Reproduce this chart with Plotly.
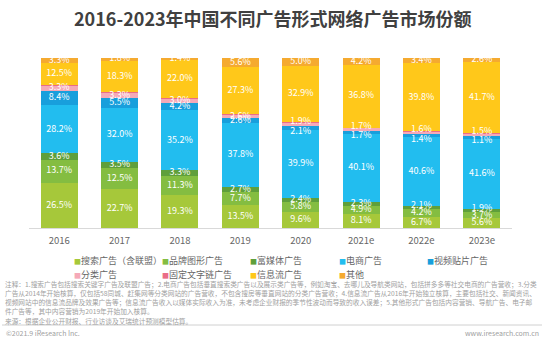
import plotly.graph_objects as go

W, H = 546, 342
ML, MR, MT, MB = 29, 34, 58, 114
PW, PH = W - ML - MR, H - MT - MB
YMAX = 99.8

def px(x):
    return (x - ML) / PW

def py(y):
    return (H - MB - y) / PH

years = ["2016", "2017", "2018", "2019", "2020", "2021e", "2022e", "2023e"]

series_names = ["搜索广告（含联盟）", "品牌图形广告", "富媒体广告", "电商广告", "视频贴片广告",
                "分类广告", "固定文字链广告", "信息流广告", "其他"]
colors = ["#a6c83a", "#84bd41", "#5f9f3b", "#22bdef", "#189fdc",
          "#f5a9b8", "#ea6d88", "#ffc81a", "#f5aa30"]

search = [26.5, 22.7, 19.3, 13.5, 9.6, 8.1, 6.7, 5.6]
brand = [13.7, 12.5, 11.3, 7.7, 5.8, 4.9, 4.2, 3.7]
rich_media = [3.6, 3.5, 3.3, 2.7, 2.4, 2.3, 2.1, 1.9]
ecommerce = [28.2, 32.0, 35.2, 37.8, 39.9, 40.1, 40.6, 41.6]
video = [8.4, 5.5, 4.2, 2.6, 2.1, 1.7, 1.4, 1.1]
classified = [3.3, 3.3, 3.0, 2.6, 1.9, 1.7, 1.6, 1.5]
text_link = [0.5, 0.4, 0.3, 0.2, 0.4, 0.2, 0.2, 0.3]
feed = [12.5, 18.3, 22.0, 27.3, 32.9, 36.8, 39.8, 41.7]
other = [3.3, 1.8, 1.4, 5.6, 5.0, 4.2, 3.4, 2.6]

series_values = [search, brand, rich_media, ecommerce, video, classified, text_link, feed, other]
show_labels = [True, True, True, True, True, True, False, True, True]
# label nudges for thin segments (pixels, negative = up)
thin_limit = 2.25
thin_nudge_px = [0, 0, -2, 0, 4, -3, 0, 0, 0]

title_text = "2016-2023年中国不同广告形式网络广告市场份额"
note_lines = [
    "注释：1.搜索广告包括搜索关键字广告及联盟广告；2.电商广告包括垂直搜索类广告以及展示类广告等，例如淘宝、去哪儿及导航类网站，包括拼多多等社交电商的广告营收；3.分类",
    "广告从2014年开始核算，仅包括58同城、赶集网等分类网站的广告营收，不包含搜房等垂直网站的分类广告营收；4.信息流广告从2016年开始独立核算，主要包括社交、新闻资讯、",
    "视频网站中的信息流品牌及效果广告等；信息流广告收入以媒体实际收入为准，未考虑企业财报的季节性波动而导致的收入误差；5.其他形式广告包括内容营销、导航广告、电子邮",
    "件广告等，其中内容营销为2019年开始加入核算。",
    "来源：根据企业公开财报、行业访谈及艾瑞统计预测模型估算。",
]
footer_left = "©2021.9 iResearch Inc."
footer_right = "www.iresearch.com.cn"

FONT = "Noto Sans CJK SC, Noto Sans, sans-serif"

fig = go.Figure()

for name, vals, col in zip(series_names, series_values, colors):
    fig.add_trace(go.Bar(
        x=years, y=vals, name=name,
        marker=dict(color=col, line=dict(width=0)),
        showlegend=False, hoverinfo="skip",
    ))

# value labels at segment centres (computed from the stacked data)
unit_per_px = YMAX / PH
base = [0.0] * len(years)
for k, (vals, lab) in enumerate(zip(series_values, show_labels)):
    centres = []
    for j, v in enumerate(vals):
        c = base[j] + v / 2
        if v < thin_limit:
            c -= thin_nudge_px[k] * unit_per_px
        centres.append(c)
        base[j] += v
    if lab:
        fig.add_trace(go.Scatter(
            x=years, y=centres, mode="text",
            text=[f"{v:.1f}%" for v in vals],
            textposition="middle center",
            textfont=dict(color="white", size=9, family=FONT),
            showlegend=False, hoverinfo="skip", cliponaxis=False,
        ))

# legend: one small legend per entry, laid out as a 5-column grid
col_x = [77, 165, 253, 342, 430]
row_y = [260, 274]
legend_layouts = {}
for i, (name, col) in enumerate(zip(series_names, colors)):
    key = "legend" if i == 0 else f"legend{i + 1}"
    fig.add_trace(go.Scatter(
        x=[None], y=[None], mode="markers",
        marker=dict(color="rgba(0,0,0,0)", size=1),
        name=f'<span style="color:{col};font-size:7px">■</span>{name}',
        legend=key, showlegend=True, hoverinfo="skip",
    ))
    legend_layouts[key] = dict(
        x=px(col_x[i % 5] - 43), y=py(row_y[i // 5]),
        orientation="h", xanchor="left", yanchor="middle",
        font=dict(size=9, color="#666666", family=FONT),
        bgcolor="rgba(0,0,0,0)", borderwidth=0, itemclick=False,
    )

annotations = [dict(
    text=f"<b>{title_text}</b>", xref="paper", yref="paper",
    x=px(W / 2), y=py(18), xanchor="center", yanchor="middle",
    showarrow=False, font=dict(size=18, color="#404040", family=FONT),
)]
note_y = [283.5, 293, 302, 311, 320.5]
for line, yy in zip(note_lines, note_y):
    annotations.append(dict(
        text=line, xref="paper", yref="paper", x=px(3), y=py(yy),
        xanchor="left", yanchor="middle", showarrow=False,
        font=dict(size=6.7, color="#a0a0a0", family=FONT),
    ))
annotations.append(dict(
    text=footer_left, xref="paper", yref="paper", x=px(4), y=py(333),
    xanchor="left", yanchor="middle", showarrow=False,
    font=dict(size=7, color="#a0a0a0", family=FONT),
))
annotations.append(dict(
    text=footer_right, xref="paper", yref="paper", x=px(541), y=py(333),
    xanchor="right", yanchor="middle", showarrow=False,
    font=dict(size=7, color="#a0a0a0", family=FONT),
))

fig.update_layout(
    width=W, height=H,
    margin=dict(l=ML, r=MR, t=MT, b=MB, pad=0),
    barmode="stack", bargap=0.387,
    plot_bgcolor="white", paper_bgcolor="white",
    xaxis=dict(showline=True, linecolor="#d9d9d9", linewidth=1,
               ticks="outside", ticklen=4, tickcolor="rgba(0,0,0,0)",
               tickfont=dict(size=9.5, color="#666666", family=FONT),
               showgrid=False, fixedrange=True),
    yaxis=dict(visible=False, range=[0, YMAX], fixedrange=True),
    annotations=annotations,
    shapes=[dict(type="line", xref="paper", yref="paper",
                 x0=px(2), x1=px(542), y0=py(325), y1=py(325),
                 line=dict(color="#d0d0d0", width=1))],
    **legend_layouts,
)

fig.write_html("out.html", config={"displayModeBar": False})
